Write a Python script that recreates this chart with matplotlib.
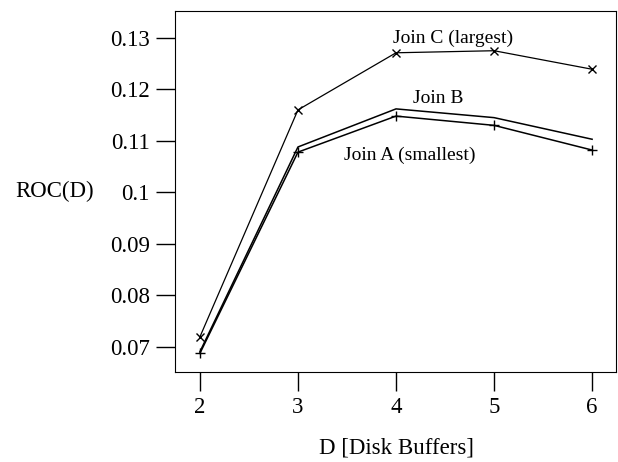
import matplotlib
matplotlib.use('Agg')
import matplotlib.pyplot as plt

# data
buffers = [2, 3, 4, 5, 6]
join_a = [0.0687, 0.1078, 0.1148, 0.1130, 0.1082]
join_b = [0.0690, 0.1088, 0.1162, 0.1145, 0.1103]
join_c = [0.0719, 0.1160, 0.1271, 0.1275, 0.1239]
y_ticks = [0.07, 0.08, 0.09, 0.1, 0.11, 0.12, 0.13]
y_tick_labels = ['0.07', '0.08', '0.09', '0.1', '0.11', '0.12', '0.13']

plt.rcParams['font.family'] = ['Liberation Serif', 'DejaVu Serif']

fig = plt.figure(figsize=(6.18, 4.62), dpi=100)
ax = fig.add_axes([0.283, 0.195, 0.714, 0.781])

ax.plot(buffers, join_a, color='black', linewidth=1.1, marker='+', markersize=7, markeredgewidth=1)
ax.plot(buffers, join_b, color='black', linewidth=1.1)
ax.plot(buffers, join_c, color='black', linewidth=0.9, marker='x', markersize=6, markeredgewidth=1)

ax.text(4.58, 0.1300, 'Join C (largest)', fontsize=14, ha='center', va='center')
ax.text(4.43, 0.1183, 'Join B', fontsize=14, ha='center', va='center')
ax.text(4.14, 0.1072, 'Join A (smallest)', fontsize=14, ha='center', va='center')

ax.set_xlim(1.745, 6.245)
ax.set_ylim(0.0651, 0.1352)
ax.set_xticks(buffers)
ax.set_yticks(y_ticks)
ax.set_yticklabels(y_tick_labels)
ax.tick_params(direction='out', length=14, width=1, labelsize=16.5, pad=4)

fig.text(0.088, 0.585, 'ROC(D)', fontsize=16.5, ha='center', va='center')
fig.text(0.642, 0.03, 'D [Disk Buffers]', fontsize=16.5, ha='center', va='center')

fig.savefig('out.png', dpi=100)
